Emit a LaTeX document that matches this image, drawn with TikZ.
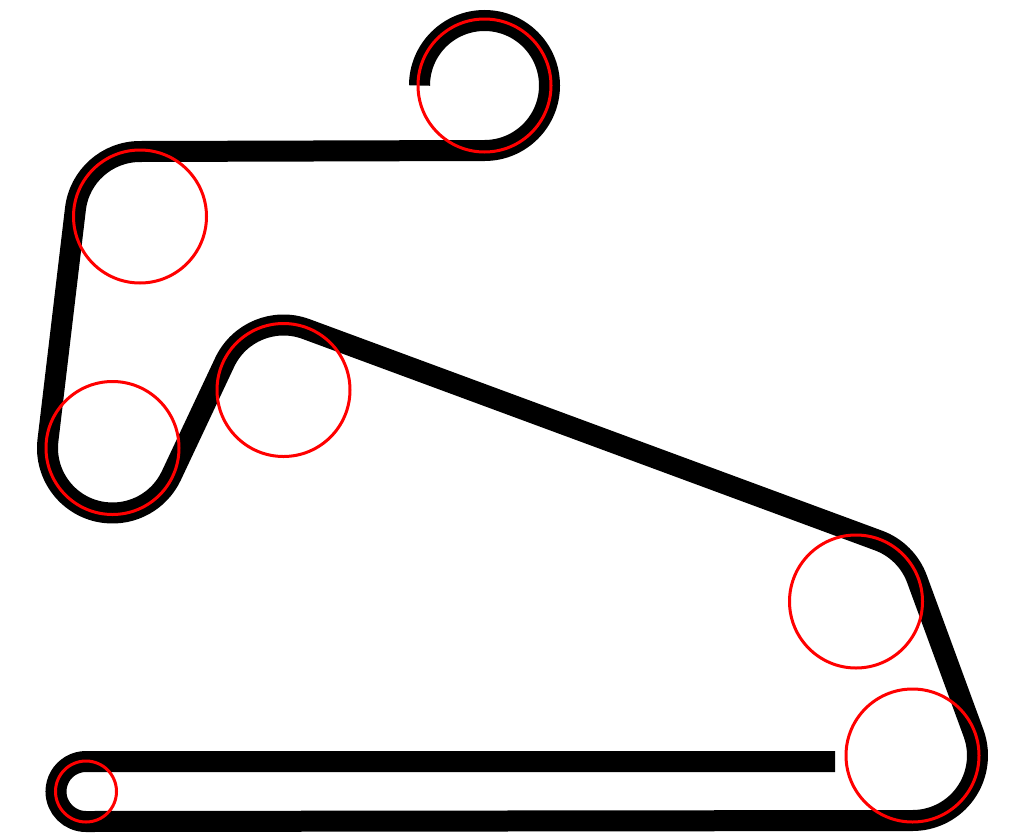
\documentclass[tikz,border=0pt]{standalone}
\begin{document}
\begin{tikzpicture}[x=1pt,y=1pt,
  belt/.style={draw=black,line width=21pt},
  pulley/.style={draw=red,line width=3pt}]
\useasboundingbox (0,-833) rectangle (1015,0);
\coordinate (C1) at (484.5,-85.5);
\coordinate (C2) at (140,-216.5);
\coordinate (C3) at (112.5,-448);
\coordinate (C4) at (283.5,-390);
\coordinate (C5) at (856,-601.5);
\coordinate (C6) at (912.5,-755.5);
\coordinate (C7) at (86,-791.5);
\coordinate (E) at (835,-761.5);
\path[belt]
  ([shift={(180:65)}]C1) arc[start angle=180, end angle=-89.83, radius=65]
  -- ([shift={(90.17:65)}]C2) arc[start angle=90.17, end angle=173.23, radius=65]
  -- ([shift={(173.23:65)}]C3) arc[start angle=173.23, end angle=334.79, radius=65]
  -- ([shift={(154.79:65)}]C4) arc[start angle=154.79, end angle=69.72, radius=65]
  -- ([shift={(69.72:65)}]C5) arc[start angle=69.72, end angle=20.15, radius=65]
  -- ([shift={(20.15:65)}]C6) arc[start angle=20.15, end angle=-89.93, radius=65]
  -- ([shift={(270.07:30)}]C7) arc[start angle=270.07, end angle=90, radius=30]
  -- (E);
\foreach \c in {C1,C2,C3,C4,C5,C6} \draw[pulley] (\c) circle[radius=66.5];
\draw[pulley] (C7) circle[radius=30.5];
\end{tikzpicture}
\end{document}
